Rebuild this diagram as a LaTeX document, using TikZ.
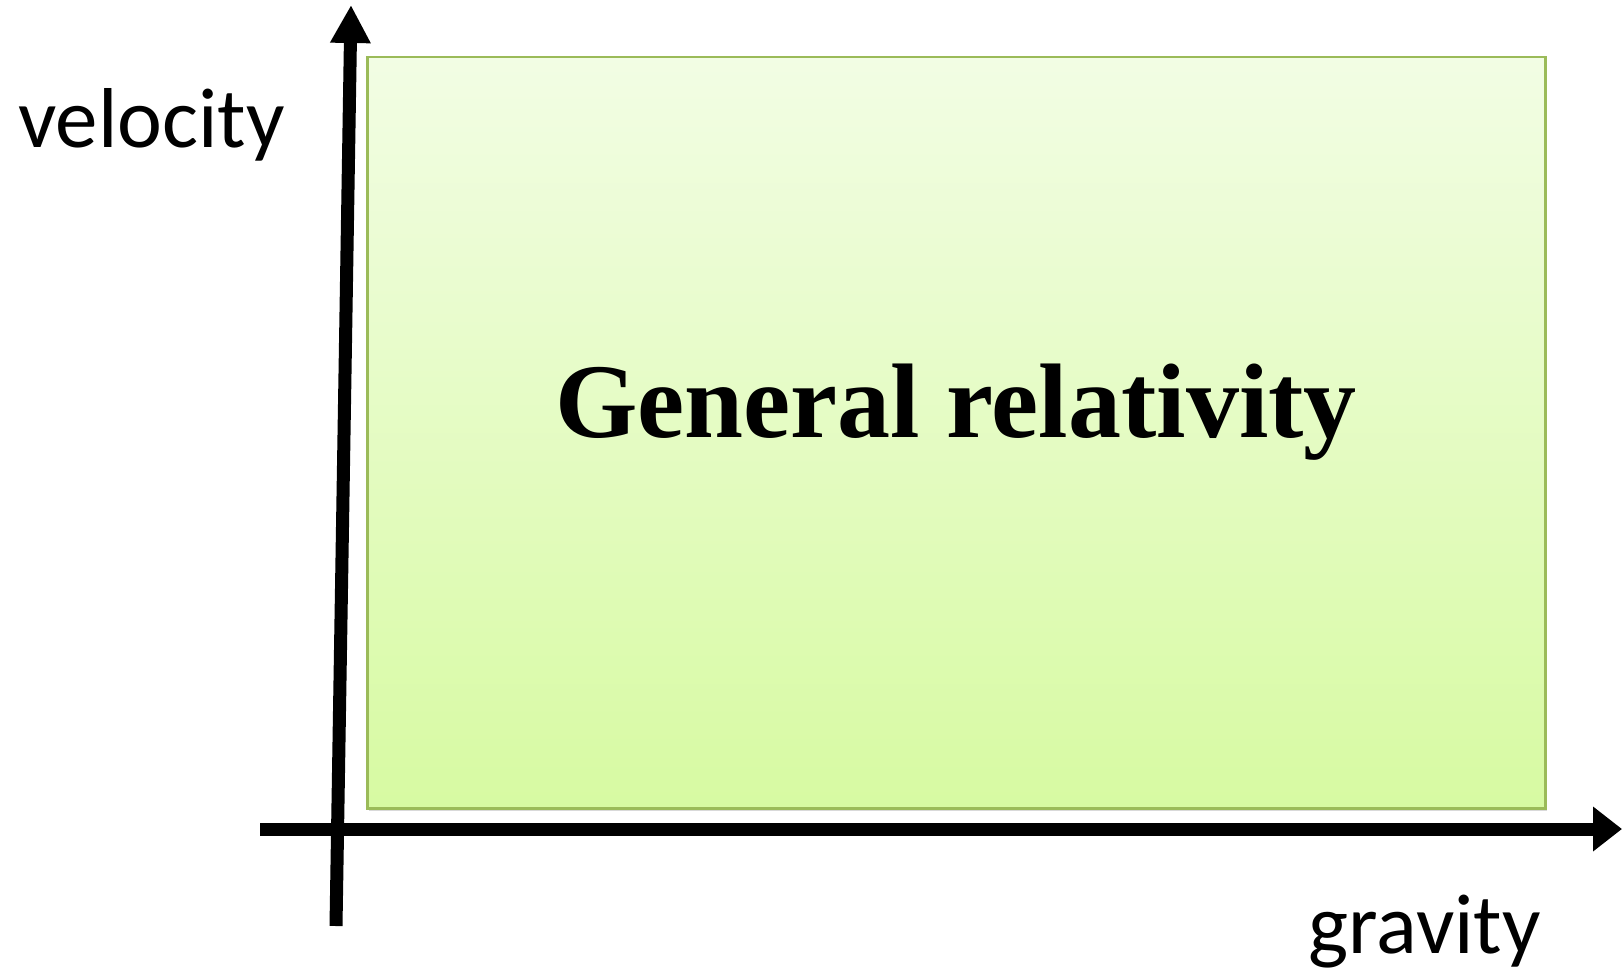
\documentclass[tikz,border=0pt]{standalone}
\usepackage{fontspec}
\setmainfont{Liberation Serif}
\newfontfamily\labelfont{Carlito}
\usetikzlibrary{arrows.meta,shadows}
\definecolor{boxtop}{HTML}{F2FDE4}
\definecolor{boxbot}{HTML}{D7FAA2}
\definecolor{boxline}{HTML}{9BBB59}
\tikzset{
  axis/.style={line width=13pt, draw=black},
  axlabel/.style={font=\labelfont\fontsize{85}{85}\selectfont, inner sep=0pt, anchor=base west},
  region/.style={draw=boxline, line width=2.5pt, top color=boxtop, bottom color=boxbot,
    drop shadow={opacity=0.25, shadow xshift=2pt, shadow yshift=-3pt, fill=black!60}},
}
\begin{document}
\begin{tikzpicture}[x=1pt,y=-1pt]
\useasboundingbox (0,0) rectangle (1622,971);
\node[region, minimum width=1178pt, minimum height=751pt, inner sep=0pt, anchor=north west] (box) at (366,56) {};
\node[font=\bfseries\fontsize{106}{106}\selectfont, inner sep=0pt, anchor=base] (title) at (956,437) {General relativity};
\coordinate (yb) at (336,926);
\coordinate (yt) at (351,5);
\coordinate (xl) at (260,829);
\coordinate (xr) at (1622,829);
\draw[axis, -{Triangle[length=38pt,width=38pt]}] (yb) -- (yt);
\draw[axis, -{Triangle[length=29pt,width=43pt]}] (xl) -- (xr);
\node[axlabel] (vel) at (18,147) {velocity};
\node[axlabel, anchor=base east] (grav) at (1541,953) {gravity};
\end{tikzpicture}
\end{document}
